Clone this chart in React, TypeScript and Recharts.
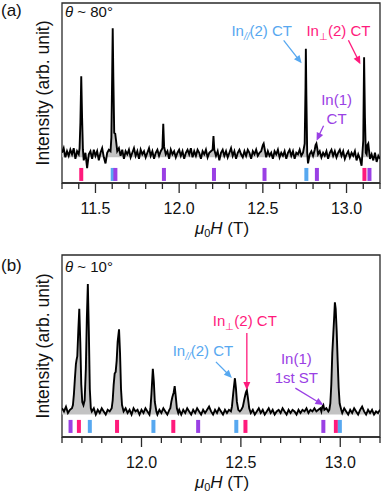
import React from 'react'
import {
  ComposedChart,
  Area,
  Line,
  Scatter,
  XAxis,
  YAxis,
  ReferenceArea,
  ReferenceDot,
} from 'recharts'

const PINK = '#ff1a7c'
const BLUE = '#57a8f0'
const PURPLE = '#9a40e4'
const FILL = '#c3c3c3'
const AXIS = '#2a2a2a'
const FONT = '"Liberation Sans", Arial, Helvetica, sans-serif'

const siteColor: Record<string, string> = { perp: PINK, par: BLUE, in1: PURPLE }

// (a) theta ~ 80 deg : field (T), intensity (arb.)
const traceA: [number, number][] = [
  [11.30, 0.02], [11.31, 0.05], [11.32, -0.01], [11.33, 0.03], [11.34, 0.0], [11.35, 0.04],
  [11.36, 0.01], [11.37, 0.05], [11.38, -0.02], [11.39, 0.03], [11.40, 0.01], [11.405, 0.05],
  [11.41, 0.22], [11.415, 0.52], [11.42, 0.25], [11.425, 0.04], [11.43, -0.03], [11.44, 0.02],
  [11.45, -0.08], [11.46, 0.01], [11.47, 0.03], [11.48, -0.02], [11.49, 0.04], [11.50, 0.0],
  [11.51, 0.03], [11.52, -0.03], [11.53, 0.02], [11.54, 0.05], [11.55, -0.01], [11.56, -0.05],
  [11.57, 0.02], [11.58, 0.04], [11.59, 0.03], [11.595, 0.12], [11.60, 0.55], [11.603, 0.835],
  [11.607, 0.5], [11.612, 0.15], [11.618, 0.145], [11.623, 0.1], [11.63, 0.03], [11.64, 0.05],
  [11.65, 0.0], [11.66, 0.04], [11.67, -0.02], [11.68, 0.03], [11.69, 0.01], [11.70, 0.04],
  [11.71, -0.01], [11.72, 0.02], [11.73, 0.05], [11.74, 0.0], [11.75, 0.03], [11.76, -0.02],
  [11.77, 0.04], [11.78, 0.01], [11.79, 0.03], [11.80, -0.01], [11.81, 0.02], [11.82, 0.05],
  [11.83, 0.0], [11.84, 0.03], [11.85, -0.02], [11.86, 0.02], [11.87, 0.04], [11.88, 0.0],
  [11.89, 0.03], [11.90, 0.05], [11.905, 0.21], [11.91, 0.06], [11.92, 0.01], [11.93, 0.03],
  [11.94, -0.02], [11.95, 0.04], [11.96, 0.01], [11.97, 0.03], [11.98, -0.01], [11.99, 0.02],
  [12.00, 0.04], [12.01, 0.0], [12.02, 0.03], [12.03, -0.02], [12.04, 0.02], [12.05, 0.04],
  [12.06, 0.01], [12.07, 0.05], [12.08, -0.01], [12.09, 0.03], [12.10, 0.0], [12.11, 0.04],
  [12.12, 0.02], [12.13, -0.02], [12.14, 0.03], [12.15, 0.01], [12.16, 0.04], [12.17, -0.01],
  [12.18, 0.02], [12.19, 0.03], [12.20, 0.04], [12.205, 0.13], [12.21, 0.04], [12.22, 0.0],
  [12.23, 0.03], [12.24, -0.03], [12.25, 0.02], [12.26, 0.04], [12.27, 0.0], [12.28, 0.03],
  [12.29, -0.01], [12.30, 0.02], [12.31, 0.05], [12.32, 0.0], [12.33, 0.03], [12.34, -0.02],
  [12.35, 0.02], [12.36, 0.04], [12.37, 0.01], [12.38, -0.01], [12.39, 0.03], [12.40, 0.0],
  [12.41, 0.04], [12.42, 0.02], [12.43, -0.02], [12.44, 0.03], [12.45, 0.01], [12.46, 0.04],
  [12.47, 0.0], [12.48, 0.02], [12.49, 0.03], [12.50, 0.07], [12.505, 0.08], [12.51, 0.05],
  [12.52, -0.01], [12.53, 0.03], [12.54, 0.0], [12.55, 0.02], [12.56, -0.02], [12.57, 0.03],
  [12.58, 0.01], [12.59, 0.04], [12.60, -0.01], [12.61, 0.02], [12.62, 0.0], [12.63, 0.03],
  [12.64, -0.02], [12.65, 0.02], [12.66, 0.04], [12.67, 0.0], [12.68, 0.03], [12.69, -0.02],
  [12.70, 0.02], [12.71, 0.01], [12.72, 0.04], [12.73, 0.0], [12.74, 0.02], [12.75, 0.08],
  [12.755, 0.45], [12.757, 0.7], [12.76, 0.4], [12.765, 0.02], [12.77, -0.05], [12.78, 0.01],
  [12.79, 0.03], [12.80, 0.0], [12.81, 0.04], [12.815, 0.07], [12.82, 0.08], [12.825, 0.05],
  [12.83, 0.01], [12.84, 0.03], [12.85, -0.01], [12.86, 0.02], [12.87, 0.0], [12.88, 0.03],
  [12.89, -0.02], [12.90, 0.02], [12.91, 0.04], [12.92, 0.0], [12.93, 0.03], [12.94, -0.01],
  [12.95, 0.02], [12.96, 0.04], [12.97, 0.0], [12.98, 0.03], [12.99, -0.02], [13.00, 0.01],
  [13.01, 0.03], [13.02, -0.01], [13.03, 0.02], [13.04, 0.0], [13.05, 0.03], [13.06, -0.03],
  [13.07, 0.01], [13.08, -0.02], [13.09, -0.065], [13.10, 0.1], [13.105, 0.645], [13.11, 0.25],
  [13.115, 0.02], [13.12, 0.01], [13.125, 0.07], [13.13, 0.08], [13.135, 0.03], [13.14, -0.02],
  [13.15, 0.01], [13.16, -0.03], [13.17, 0.02], [13.18, -0.04], [13.19, 0.0], [13.20, -0.02],
]

const linesA = [
  { x: 11.415, site: 'perp' },
  { x: 11.603, site: 'par' },
  { x: 11.619, site: 'in1' },
  { x: 11.909, site: 'in1' },
  { x: 12.208, site: 'in1' },
  { x: 12.51, site: 'in1' },
  { x: 12.76, site: 'par' },
  { x: 12.823, site: 'in1' },
  { x: 13.107, site: 'perp' },
  { x: 13.137, site: 'in1' },
]

const ticksA = [
  11.3, 11.4, 11.5, 11.6, 11.7, 11.8, 11.9, 12.0, 12.1, 12.2,
  12.3, 12.4, 12.5, 12.6, 12.7, 12.8, 12.9, 13.0, 13.1, 13.2,
]

// (b) theta ~ 10 deg
const traceB: [number, number][] = [
  [11.60, 0.03], [11.61, 0.01], [11.62, 0.04], [11.63, 0.0], [11.64, 0.02], [11.65, 0.03],
  [11.655, 0.05], [11.66, 0.12], [11.665, 0.22], [11.67, 0.31], [11.673, 0.335], [11.677, 0.36],
  [11.682, 0.52], [11.687, 0.66], [11.692, 0.45], [11.697, 0.18], [11.702, 0.07], [11.708, 0.05],
  [11.714, 0.08], [11.72, 0.28], [11.725, 0.6], [11.73, 0.816], [11.735, 0.52], [11.74, 0.15],
  [11.745, 0.03], [11.75, 0.01], [11.76, 0.03], [11.77, -0.01], [11.78, 0.02], [11.79, 0.0],
  [11.80, 0.03], [11.81, 0.01], [11.82, -0.01], [11.83, 0.02], [11.84, 0.01], [11.85, 0.03],
  [11.855, 0.08], [11.86, 0.18], [11.865, 0.25], [11.87, 0.26], [11.875, 0.33], [11.88, 0.45],
  [11.887, 0.53], [11.892, 0.38], [11.897, 0.15], [11.902, 0.05], [11.91, 0.01], [11.92, 0.03],
  [11.93, 0.0], [11.94, 0.02], [11.95, -0.01], [11.96, 0.03], [11.97, 0.01], [11.98, 0.02],
  [11.99, -0.01], [12.00, 0.02], [12.01, 0.0], [12.02, 0.03], [12.03, 0.01], [12.04, -0.01],
  [12.045, 0.03], [12.05, 0.12], [12.057, 0.28], [12.062, 0.2], [12.067, 0.07], [12.075, 0.01],
  [12.08, -0.01], [12.09, 0.02], [12.10, 0.0], [12.11, 0.03], [12.12, 0.01], [12.13, -0.01],
  [12.14, 0.02], [12.145, 0.03], [12.15, 0.07], [12.155, 0.1], [12.162, 0.13], [12.167, 0.17],
  [12.172, 0.11], [12.178, 0.03], [12.185, 0.0], [12.19, 0.02], [12.20, -0.01], [12.21, 0.02],
  [12.22, 0.0], [12.23, 0.03], [12.24, 0.01], [12.25, -0.01], [12.26, 0.02], [12.27, 0.0],
  [12.28, 0.03], [12.29, 0.01], [12.30, -0.01], [12.31, 0.02], [12.32, 0.0], [12.33, 0.02],
  [12.34, 0.04], [12.35, 0.01], [12.36, -0.01], [12.37, 0.02], [12.38, 0.0], [12.39, 0.03],
  [12.40, 0.01], [12.41, -0.01], [12.42, 0.02], [12.43, 0.0], [12.44, 0.02], [12.45, 0.01],
  [12.455, 0.04], [12.462, 0.13], [12.47, 0.22], [12.475, 0.16], [12.48, 0.07], [12.487, 0.02],
  [12.495, 0.01], [12.502, 0.02], [12.51, 0.04], [12.518, 0.09], [12.525, 0.13], [12.53, 0.145],
  [12.535, 0.1], [12.542, 0.03], [12.55, 0.0], [12.56, 0.02], [12.57, -0.01], [12.58, 0.01],
  [12.59, 0.03], [12.60, 0.0], [12.61, 0.02], [12.62, -0.01], [12.63, 0.01], [12.64, 0.03],
  [12.65, 0.0], [12.66, 0.02], [12.67, -0.01], [12.68, 0.01], [12.69, 0.02], [12.70, 0.0],
  [12.71, 0.03], [12.72, 0.01], [12.73, -0.01], [12.74, 0.02], [12.75, 0.0], [12.76, 0.02],
  [12.77, 0.01], [12.78, -0.01], [12.79, 0.02], [12.80, 0.0], [12.81, 0.02], [12.82, 0.01],
  [12.83, 0.03], [12.84, 0.0], [12.85, 0.02], [12.86, 0.01], [12.87, 0.03], [12.88, 0.01],
  [12.89, 0.02], [12.90, 0.03], [12.905, 0.01], [12.91, 0.04], [12.915, 0.05], [12.92, 0.02],
  [12.93, 0.03], [12.94, 0.01], [12.945, 0.02], [12.95, 0.06], [12.955, 0.18], [12.96, 0.38],
  [12.965, 0.5], [12.97, 0.62], [12.973, 0.7], [12.977, 0.66], [12.982, 0.52], [12.987, 0.33],
  [12.992, 0.16], [12.997, 0.06], [13.005, 0.02], [13.01, 0.0], [13.02, 0.03], [13.03, 0.01],
  [13.04, -0.01], [13.05, 0.02], [13.06, 0.0], [13.07, 0.03], [13.08, 0.01], [13.09, -0.01],
  [13.10, 0.02], [13.11, 0.04], [13.12, 0.01], [13.13, -0.01], [13.14, 0.02], [13.15, 0.0],
  [13.16, 0.02], [13.17, -0.01], [13.18, 0.01], [13.19, 0.0], [13.20, 0.02],
]

const linesB = [
  { x: 11.643, site: 'in1' },
  { x: 11.685, site: 'perp' },
  { x: 11.74, site: 'par' },
  { x: 11.877, site: 'perp' },
  { x: 12.06, site: 'par' },
  { x: 12.16, site: 'perp' },
  { x: 12.285, site: 'in1' },
  { x: 12.477, site: 'par' },
  { x: 12.523, site: 'perp' },
  { x: 12.915, site: 'in1' },
  { x: 12.978, site: 'perp' },
  { x: 12.998, site: 'par' },
]

const ticksB = [
  11.6, 11.7, 11.8, 11.9, 12.0, 12.1, 12.2, 12.3, 12.4, 12.5,
  12.6, 12.7, 12.8, 12.9, 13.0, 13.1, 13.2,
]

type Note = {
  x: number
  y: number
  color: string
  tail: [number, number]
  text: { t: string; dx: number; dy: number }[]
}

const notesA: Note[] = [
  { x: 12.732, y: 0.605, color: BLUE, tail: [-18, -23], text: [{ t: 'In_{//}(2) CT', dx: -40, dy: -27 }] },
  { x: 13.083, y: 0.599, color: PINK, tail: [-12, -24], text: [{ t: 'In_{⊥}(2) CT', dx: -22, dy: -28 }] },
  {
    x: 12.821, y: 0.099, color: PURPLE, tail: [7, -15],
    text: [{ t: 'In(1)', dx: 20, dy: -36 }, { t: 'CT', dx: 20, dy: -17 }],
  },
]

const notesB: Note[] = [
  { x: 12.53, y: 0.146, color: PINK, tail: [0, -57], text: [{ t: 'In_{⊥}(2) CT', dx: -2, dy: -64 }] },
  { x: 12.455, y: 0.222, color: BLUE, tail: [-16, -16], text: [{ t: 'In_{//}(2) CT', dx: -29, dy: -22 }] },
  {
    x: 12.915, y: 0.05, color: PURPLE, tail: [-28, -17],
    text: [{ t: 'In(1)', dx: -27, dy: -41 }, { t: '1st ST', dx: -27, dy: -22 }],
  },
]

function FieldTick(props: any) {
  const { x, y, payload } = props
  const v = payload.value as number
  const major = Math.abs(v * 2 - Math.round(v * 2)) < 1e-6
  return (
    <g>
      <line x1={x} y1={y} x2={x} y2={y + (major ? 10 : 6)} stroke={AXIS} strokeWidth={1.3} />
      {major && (
        <text x={x} y={y + 31} textAnchor="middle" fontSize={16} fontFamily={FONT} fill="#111">
          {v.toFixed(1)}
        </text>
      )}
    </g>
  )
}

function SiteLabel({ x, y, color, text }: { x: number; y: number; color: string; text: string }) {
  const m = text.match(/^(.*)_\{(.*)\}(.*)$/)
  return (
    <text x={x} y={y} textAnchor="middle" fill={color} fontSize={15} fontFamily={FONT}>
      {m ? (
        <>
          <tspan>{m[1]}</tspan>
          <tspan fontSize={10} dy={4} fontStyle={m[2] === '//' ? 'italic' : 'normal'}>{m[2]}</tspan>
          <tspan dy={-4}>{m[3]}</tspan>
        </>
      ) : (
        text
      )}
    </text>
  )
}

function calloutShape(note: Note) {
  return (props: any) => {
    const { cx, cy } = props
    const x0 = cx + note.tail[0]
    const y0 = cy + note.tail[1]
    const len = Math.hypot(cx - x0, cy - y0)
    const ux = (cx - x0) / len
    const uy = (cy - y0) / len
    const head = 8
    const half = 3.5
    const bx = cx - ux * head
    const by = cy - uy * head
    const pts = `${cx},${cy} ${bx - uy * half},${by + ux * half} ${bx + uy * half},${by - ux * half}`
    return (
      <g>
        <line x1={x0} y1={y0} x2={bx + ux} y2={by + uy} stroke={note.color} strokeWidth={1.3} />
        <polygon points={pts} fill={note.color} />
        {note.text.map((l, i) => (
          <SiteLabel key={i} x={cx + l.dx} y={cy + l.dy} color={note.color} text={l.t} />
        ))}
      </g>
    )
  }
}

function LineMark(props: any) {
  const { cx, cy, payload } = props
  return <rect x={cx - 2} y={cy - 6.5} width={4} height={13} fill={siteColor[payload.site]} />
}

interface PanelProps {
  top: number
  height: number
  tag: string
  angle: string
  trace: [number, number][]
  lines: { x: number; site: string }[]
  ticks: number[]
  yDomain: [number, number]
  markerY: number
  notes: Note[]
  plotTop: number
  plotBottom: number
  labelTop: number
}

function Panel(p: PanelProps) {
  const data = p.trace.map(([x, y]) => ({ x, y }))
  const marks = p.lines.map((l) => ({ ...l, y: p.markerY }))
  const xDomain: [number, number] = [p.ticks[0], p.ticks[p.ticks.length - 1]]
  const midY = (p.plotTop + p.plotBottom) / 2
  return (
    <div style={{ position: 'absolute', left: 0, top: p.top, width: 382, height: p.height }}>
      <ComposedChart
        width={382}
        height={p.height}
        data={data}
        margin={{ top: p.plotTop, right: 2, bottom: 0, left: 62 }}
      >
        <XAxis
          type="number"
          dataKey="x"
          domain={xDomain}
          ticks={p.ticks}
          interval={0}
          allowDataOverflow
          height={p.height - p.plotBottom}
          tickSize={0}
          tickMargin={0}
          tickLine={false}
          axisLine={{ stroke: AXIS, strokeWidth: 1.3 }}
          tick={<FieldTick />}
        />
        <YAxis type="number" domain={p.yDomain} hide allowDataOverflow />
        <ReferenceArea
          x1={xDomain[0]}
          x2={xDomain[1]}
          y1={p.yDomain[0]}
          y2={p.yDomain[1]}
          fill="none"
          fillOpacity={0}
          stroke={AXIS}
          strokeWidth={1.3}
        />
        <Area
          type="linear"
          dataKey="y"
          stroke="none"
          fill={FILL}
          fillOpacity={1}
          baseValue={-0.01}
          isAnimationActive={false}
        />
        <Line
          type="linear"
          dataKey="y"
          stroke="#000"
          strokeWidth={1.9}
          dot={false}
          isAnimationActive={false}
        />
        <Scatter data={marks} dataKey="y" shape={<LineMark />} isAnimationActive={false} />
        {p.notes.map((n, i) => (
          <ReferenceDot key={i} x={n.x} y={n.y} r={0} ifOverflow="visible" shape={calloutShape(n)} />
        ))}
      </ComposedChart>
      <svg
        width={382}
        height={p.height}
        style={{ position: 'absolute', left: 0, top: 0, overflow: 'visible', pointerEvents: 'none' }}
      >
        <text x={1} y={p.labelTop + 14} fontSize={17} fontFamily={FONT} fill="#111">
          {p.tag}
        </text>
        <text x={65} y={p.labelTop + 15} fontSize={15} fontFamily={FONT} fill="#111">
          <tspan fontStyle="italic">θ</tspan> ~ {p.angle}
        </text>
        <text
          x={49}
          y={midY}
          transform={`rotate(-90 49 ${midY})`}
          textAnchor="middle"
          fontSize={17.5}
          fontFamily={FONT}
          fill="#111"
        >
          Intensity (arb. unit)
        </text>
        <text x={222} y={p.plotBottom + 51} textAnchor="middle" fontSize={17} fontFamily={FONT} fill="#111">
          <tspan fontStyle="italic">μ</tspan>
          <tspan fontSize={11} dy={3}>0</tspan>
          <tspan dy={-3} fontStyle="italic">H</tspan> (T)
        </text>
      </svg>
    </div>
  )
}

export default function App() {
  return (
    <div style={{ position: 'absolute', left: 0, top: 0, width: 382, height: 495, background: '#fff' }}>
      <Panel
        top={0}
        height={240}
        tag="(a)"
        angle="80°"
        trace={traceA}
        lines={linesA}
        ticks={ticksA}
        yDomain={[-0.178, 1]}
        markerY={-0.122}
        notes={notesA}
        plotTop={3}
        plotBottom={183}
        labelTop={2}
      />
      <Panel
        top={240}
        height={255}
        tag="(b)"
        angle="10°"
        trace={traceB}
        lines={linesB}
        ticks={ticksB}
        yDomain={[-0.152, 1]}
        markerY={-0.085}
        notes={notesB}
        plotTop={15}
        plotBottom={197}
        labelTop={17}
      />
    </div>
  )
}
